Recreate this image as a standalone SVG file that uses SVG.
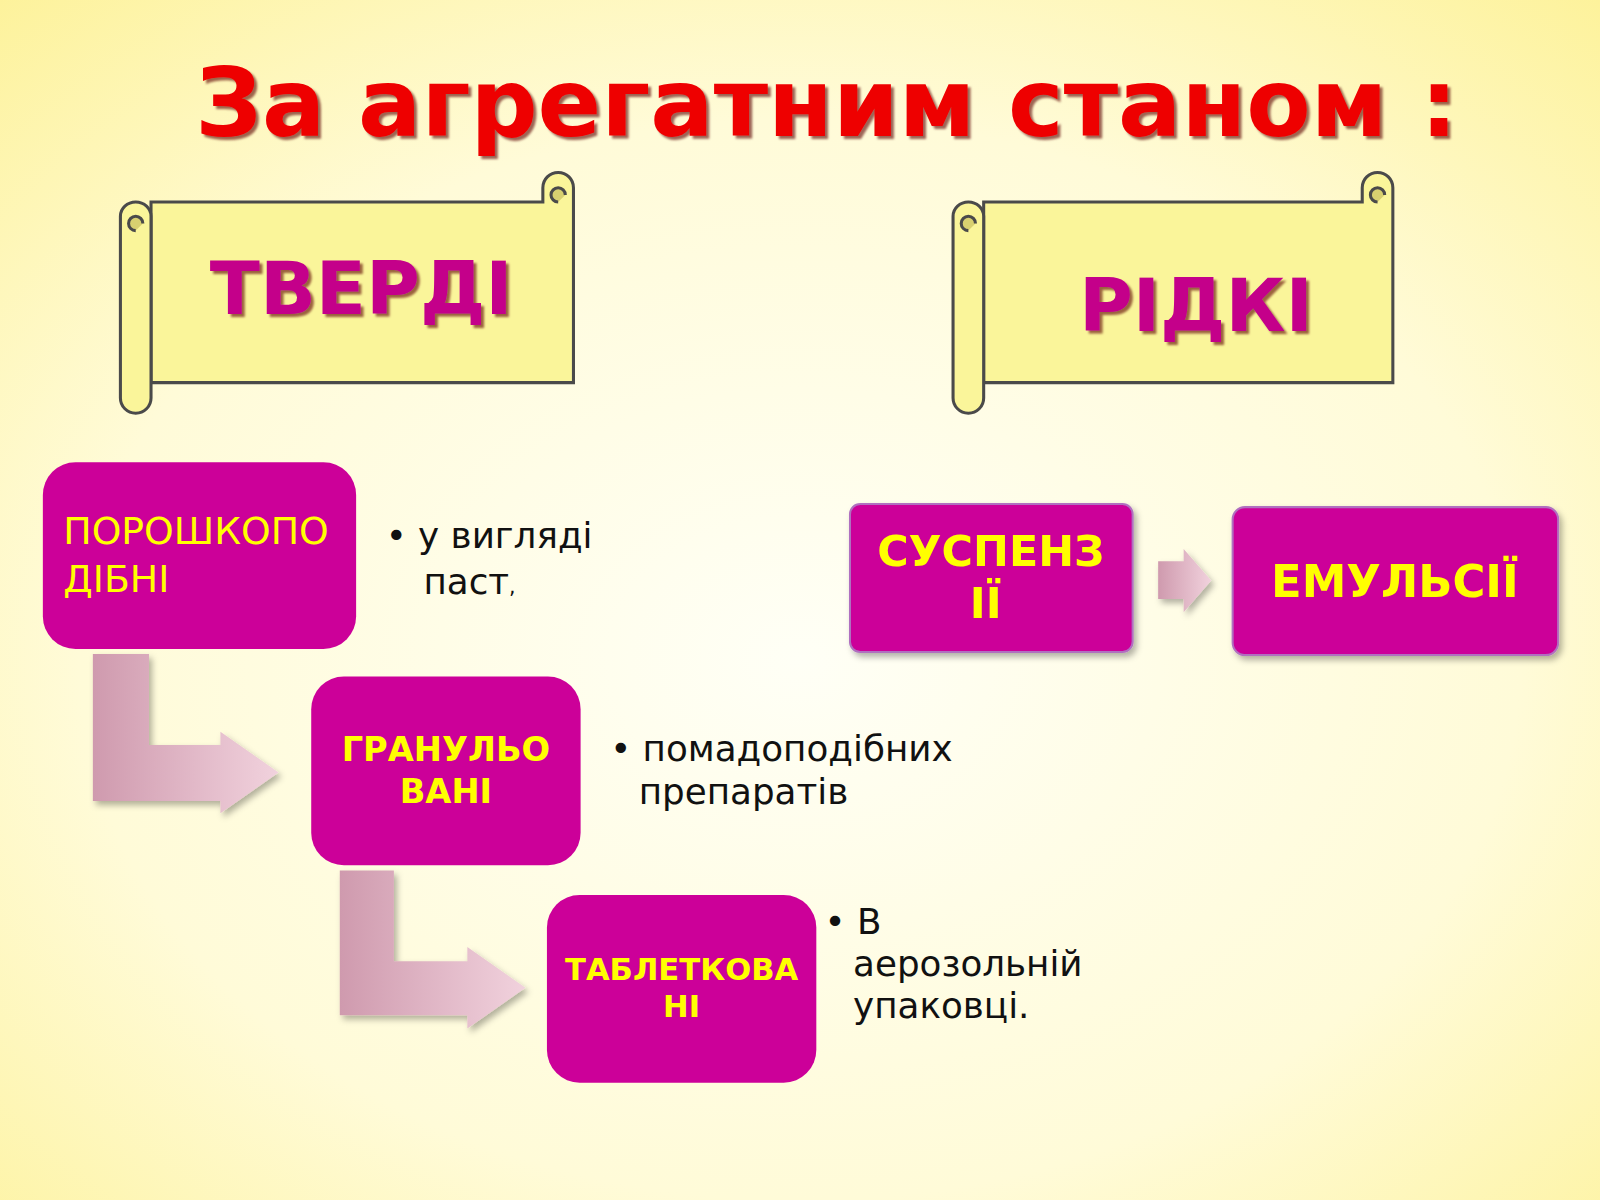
<svg xmlns="http://www.w3.org/2000/svg" width="1600" height="1200" viewBox="0 0 1600 1200">
<defs>
<radialGradient id="bg" cx="0.5" cy="0.55" r="0.75"><stop offset="0" stop-color="#fffff6"/><stop offset="0.6" stop-color="#fffbd8"/><stop offset="1" stop-color="#fdf29a"/></radialGradient>
<linearGradient id="arr" x1="0" y1="0" x2="1" y2="0"><stop offset="0" stop-color="#cf9aae"/><stop offset="1" stop-color="#f1d2dd"/></linearGradient>
<filter id="sh" x="-10%" y="-10%" width="130%" height="130%"><feDropShadow dx="3" dy="4" stdDeviation="3" flood-color="#000" flood-opacity="0.3"/></filter>
<filter id="ts"><feDropShadow dx="3" dy="3" stdDeviation="1" flood-color="#5a0000" flood-opacity="0.6"/></filter>
<style>
.box{fill:#cc0099}
.scroll{fill:#faf59a;stroke:#4a4a4a;stroke-width:3}
.lbl{font-family:"DejaVu Sans","Liberation Sans",sans-serif;fill:#ffff00;text-anchor:middle;font-weight:bold}
.txt{font-family:"DejaVu Sans","Liberation Sans",sans-serif;fill:#111;font-size:35px}
.hd{font-family:"DejaVu Sans","Liberation Sans",sans-serif;font-weight:bold;fill:#c4008a;text-anchor:middle;font-size:72px}
</style>
</defs>
<rect width="1600" height="1200" fill="url(#bg)"/>
<g transform="scale(1.0204)">
<text x="810" y="133" font-family="DejaVu Sans,Liberation Sans,sans-serif" font-weight="bold" font-size="92" fill="#ee0000" text-anchor="middle" filter="url(#ts)">За агрегатним станом :</text>

<g id="scroll-tverdi">
<path class="scroll" d="M148,198 H532 V184 a14,14 0 0 1 30,0 V375 H148 Z"/>
<path class="scroll" d="M118,212 a15,14 0 0 1 30,0 V390 a15,15 0 0 1 -30,0 Z"/>
<path d="M133,226 a7,7 0 0 1 0,-14 a7,7 0 0 1 7,7" fill="#d8d070" stroke="#4a4a4a" stroke-width="3"/>
<path d="M547,198 a7,7 0 0 1 0,-14 a7,7 0 0 1 7,7" fill="#d8d070" stroke="#4a4a4a" stroke-width="3"/>
<text class="hd" x="354" y="308" filter="url(#ts)">ТВЕРДІ</text>
</g>
<g id="scroll-ridki">
<path class="scroll" d="M964,198 H1335 V184 a14,14 0 0 1 30,0 V375 H964 Z"/>
<path class="scroll" d="M934,212 a15,14 0 0 1 30,0 V390 a15,15 0 0 1 -30,0 Z"/>
<path d="M949,226 a7,7 0 0 1 0,-14 a7,7 0 0 1 7,7" fill="#d8d070" stroke="#4a4a4a" stroke-width="3"/>
<path d="M1350,198 a7,7 0 0 1 0,-14 a7,7 0 0 1 7,7" fill="#d8d070" stroke="#4a4a4a" stroke-width="3"/>
<text class="hd" x="1172" y="324" filter="url(#ts)">РІДКІ</text>
</g>

<g id="connectors">
<path d="M91,641 H146 V730 H216 V717 L273,757 L216,797 V785 H91 Z" fill="url(#arr)" filter="url(#sh)"/>
<path d="M333,853 H386 V942 H458 V928 L515,968 L458,1008 V995 H333 Z" fill="url(#arr)" filter="url(#sh)"/>
<path d="M1135,550 H1160 V538 L1187,569 L1160,600 V587 H1135 Z" fill="url(#arr)" filter="url(#sh)"/>
</g>

<g id="poroshkopodibni">
<rect class="box" x="42" y="453" width="307" height="183" rx="32"/>
<text font-family="DejaVu Sans,Liberation Sans,sans-serif" font-size="37" fill="#ffff00" x="62" y="533">ПОРОШКОПО</text>
<text font-family="DejaVu Sans,Liberation Sans,sans-serif" font-size="37" fill="#ffff00" x="62" y="580">ДІБНІ</text>
</g>
<g id="note1"><text class="txt" x="378" y="537">• у вигляді</text><text class="txt" x="415" y="582">паст<tspan font-size="20">,</tspan></text></g>

<g id="granulovani">
<rect class="box" x="305" y="663" width="264" height="185" rx="32"/>
<text class="lbl" font-size="33" x="437" y="746">ГРАНУЛЬО</text>
<text class="lbl" font-size="33" x="437" y="787">ВАНІ</text>
</g>
<g id="note2"><text class="txt" x="598" y="746">• помадоподібних</text><text class="txt" x="626" y="788">препаратів</text></g>

<g id="tabletkovani">
<rect class="box" x="536" y="877" width="264" height="184" rx="32"/>
<text class="lbl" font-size="30" x="668" y="960">ТАБЛЕТКОВА</text>
<text class="lbl" font-size="30" x="668" y="997">НІ</text>
</g>
<g id="note3"><text class="txt" x="808" y="915">•  В</text><text class="txt" x="836" y="956">аерозольній</text><text class="txt" x="836" y="998">упаковці.</text></g>

<g id="suspenzii" filter="url(#sh)">
<rect class="box" x="833" y="494" width="277" height="145" rx="10" stroke="#b070c0" stroke-width="2"/>
<text class="lbl" font-size="42" x="971" y="555">СУСПЕНЗ</text>
<text class="lbl" font-size="42" x="966" y="606">ІЇ</text>
</g>
<g id="emulsii" filter="url(#sh)">
<rect class="box" x="1208" y="497" width="319" height="145" rx="12" stroke="#b070c0" stroke-width="2"/>
<text class="lbl" font-size="44" x="1367" y="585">ЕМУЛЬСІЇ</text>
</g>
</g>
</svg>
